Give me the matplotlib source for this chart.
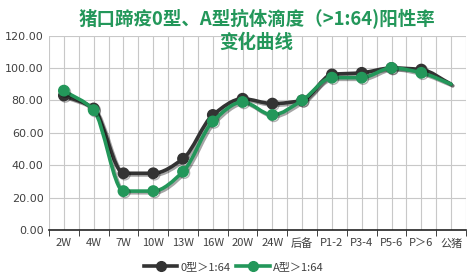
import matplotlib
matplotlib.use("Agg")
import matplotlib.pyplot as plt
import matplotlib.patheffects as pe
from matplotlib.path import Path
from matplotlib.patches import PathPatch
from matplotlib.lines import Line2D
import numpy as np

plt.rcParams['font.family'] = ['Noto Sans CJK SC', 'DejaVu Sans']

categories = ["2W", "4W", "7W", "10W", "13W", "16W", "20W", "24W", "后备", "P1-2", "P3-4", "P5-6", "P＞6", "公猪"]
series_o = [83, 75, 35, 35, 44, 71, 81, 78, 80, 96, 97, 100, 99, 90]
series_a = [86, 74, 24, 24, 36, 67, 79, 71, 80, 94, 94, 100, 97, 90]
y_ticks = [0, 20, 40, 60, 80, 100, 120]
labels = ["0型＞1:64", "A型＞1:64"]

black = "#333333"
green = "#23975a"

fig = plt.figure(figsize=(4.68, 2.77), dpi=100)
ax = fig.add_axes([0.1047, 0.1697, 0.891, 0.702])

n = len(categories)
x = np.arange(n)


def smooth_path(xs, ys, t=0.33):
    m = len(xs)
    slopes = []
    for i in range(m):
        if i == 0:
            s = ys[1] - ys[0]
        elif i == m - 1:
            s = ys[-1] - ys[-2]
        else:
            d1 = ys[i] - ys[i - 1]
            d2 = ys[i + 1] - ys[i]
            if d1 * d2 <= 0:
                s = 0.0
            else:
                s = 2 * d1 * d2 / (d1 + d2)
        slopes.append(s)
    verts = [(xs[0], ys[0])]
    codes = [Path.MOVETO]
    for i in range(m - 1):
        c1 = (xs[i] + t, ys[i] + slopes[i] * t)
        c2 = (xs[i + 1] - t, ys[i + 1] - slopes[i + 1] * t)
        verts += [c1, c2, (xs[i + 1], ys[i + 1])]
        codes += [Path.CURVE4] * 3
    return Path(verts, codes)


for ys, col, z in [(series_o, black, 3), (series_a, green, 4)]:
    patch = PathPatch(smooth_path(list(x), ys), facecolor='none', edgecolor=col,
                      lw=2.6, zorder=z, capstyle='round', joinstyle='round',
                      path_effects=[pe.SimpleLineShadow(offset=(1.2, -1.2), alpha=0.35, shadow_color='#000000'), pe.Normal()])
    ax.add_patch(patch)
    ax.plot(x[:-1], ys[:-1], linestyle='none', marker='o', ms=7.5, color=col, zorder=z + 0.5,
            path_effects=[pe.SimpleLineShadow(offset=(1, -1), alpha=0.3), pe.Normal()])

ax.set_xlim(-0.5, n - 0.5)
ax.set_ylim(0, 120)
ax.set_yticks(y_ticks)
ax.set_yticklabels([f"{v:.2f}" for v in y_ticks], fontsize=8, color="#404040", family='DejaVu Sans')
ax.set_xticks(x)
ax.set_xticklabels(categories, fontsize=8, color="#404040")
ax.set_xticks(np.arange(-0.5, n, 1), minor=True)
ax.tick_params(axis='x', which='major', length=0, pad=6)
ax.tick_params(axis='x', which='minor', length=4, color='#222222', direction='out')
ax.tick_params(axis='y', length=0, pad=4)

for v in y_ticks[1:]:
    ax.axhline(v, color='#c8c8c8', lw=0.8, zorder=0)
for v in np.arange(-0.5, n, 0.5):
    ax.axvline(v, color='#c8c8c8', lw=0.8, zorder=0)

for s in ['top', 'right', 'left']:
    ax.spines[s].set_visible(False)
ax.spines['bottom'].set_color('#222222')
ax.spines['bottom'].set_linewidth(1.2)

fig.text(0.548, 0.93, "猪口蹄疫0型、A型抗体滴度（>1:64)阳性率", ha='center', va='center',
         fontsize=13.3, fontweight='bold', color=green)
fig.text(0.548, 0.848, "变化曲线", ha='center', va='center',
         fontsize=13.3, fontweight='bold', color=green)

handles = [Line2D([], [], color=black, lw=2.6, marker='o', ms=7),
           Line2D([], [], color=green, lw=2.6, marker='o', ms=7)]
fig.legend(handles, labels, loc='center', bbox_to_anchor=(0.5, 0.036), ncol=2, frameon=False,
           fontsize=8, handlelength=3, columnspacing=0.5, handletextpad=0.3,
           labelcolor="#404040")

fig.savefig("out.png", dpi=100, facecolor='white')
